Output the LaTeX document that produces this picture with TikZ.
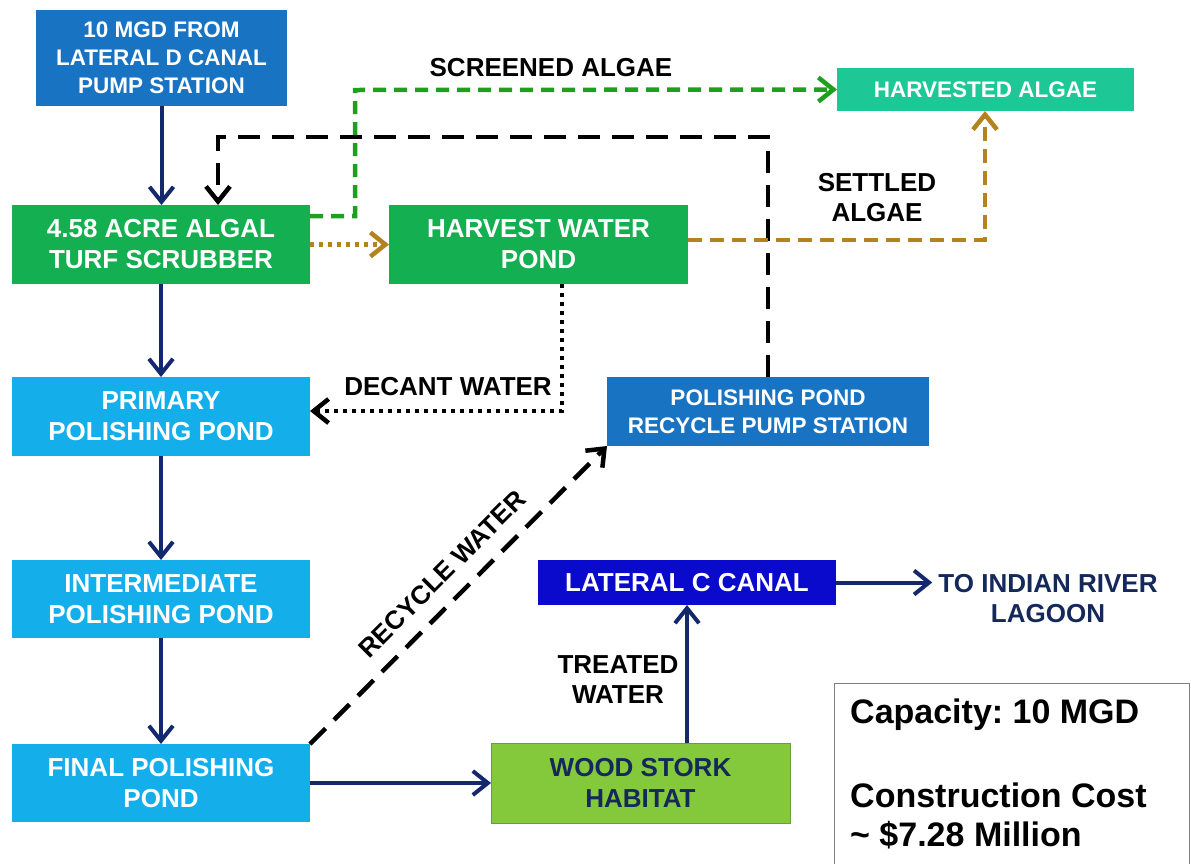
\documentclass[tikz,border=0pt]{standalone}
\usepackage{fontspec}
\setmainfont{Liberation Sans}
\usetikzlibrary{arrows.meta,calc}
\frenchspacing
\definecolor{bluebox}{RGB}{25,115,195}
\definecolor{greenbox}{RGB}{20,175,80}
\definecolor{tealbox}{RGB}{30,200,150}
\definecolor{lightblue}{RGB}{20,175,235}
\definecolor{darkblue}{RGB}{10,10,205}
\definecolor{woodgreen}{RGB}{132,200,60}
\definecolor{navy}{RGB}{20,40,110}
\definecolor{navytext}{RGB}{20,40,90}
\definecolor{dgreen}{RGB}{30,160,30}
\definecolor{brown}{RGB}{180,130,30}
\tikzset{
  box/.style={inner sep=0pt, outer sep=0pt, align=center, text=white,
    font=\fontsize{26}{31}\selectfont\bfseries},
  smallbox/.style={box, font=\fontsize{22.5}{28}\selectfont\bfseries},
  lbl/.style={inner sep=0pt, align=center, text=black,
    font=\fontsize{26}{30}\selectfont\bfseries},
  tip/.style={-{Straight Barb[length=15pt,width=24pt]}},
  flow/.style={draw=navy, line width=4pt, tip},
  blackdash/.style={draw=black, line width=4.5pt, dash pattern=on 22pt off 12pt, tip},
  blackdot/.style={draw=black, line width=4.5pt, dash pattern=on 4pt off 5pt, tip},
  greendash/.style={draw=dgreen, line width=4.5pt, dash pattern=on 13pt off 8pt, tip},
  browndash/.style={draw=brown, line width=4.5pt, dash pattern=on 14pt off 8pt, tip},
  browndot/.style={draw=brown, line width=4.5pt, dash pattern=on 4pt off 5pt, tip},
  captext/.style={inner sep=0pt, anchor=west, font=\fontsize{34}{40}\selectfont\bfseries},
}
\begin{document}
\begin{tikzpicture}[x=1pt,y=-1pt]
\useasboundingbox (0,0) rectangle (1191,863);
\fill[white] (0,0) rectangle (1191,863);

% boxes
\node[smallbox, fill=bluebox, minimum width=251pt, minimum height=96pt] (src) at (161.5,58) {10 MGD FROM\\LATERAL D CANAL\\PUMP STATION};
\node[box, fill=greenbox, minimum width=298pt, minimum height=79pt] (scrub) at (161,244.5) {4.58 ACRE ALGAL\\TURF SCRUBBER};
\node[box, fill=greenbox, minimum width=299pt, minimum height=79pt] (harvest) at (538.5,244.5) {HARVEST WATER\\POND};
\node[smallbox, fill=tealbox, minimum width=297pt, minimum height=43pt] (halgae) at (985.5,89.5) {HARVESTED ALGAE};
\node[box, fill=lightblue, minimum width=298pt, minimum height=79pt] (primary) at (161,416.5) {PRIMARY\\POLISHING POND};
\node[box, fill=lightblue, minimum width=298pt, minimum height=78pt] (inter) at (161,599) {INTERMEDIATE\\POLISHING POND};
\node[box, fill=lightblue, minimum width=298pt, minimum height=78pt] (final) at (161,783) {FINAL POLISHING\\POND};
\node[smallbox, fill=bluebox, minimum width=322pt, minimum height=69pt] (pump) at (768,411.5) {POLISHING POND\\RECYCLE PUMP STATION};
\node[box, fill=darkblue, minimum width=298pt, minimum height=45pt] (latc) at (687,582.5) {LATERAL C CANAL};
\node[box, fill=woodgreen, draw=woodgreen!80!black, line width=1pt, text=navytext, minimum width=299pt, minimum height=80pt] (wood) at (640.5,783) {WOOD STORK\\HABITAT};
\node[lbl, text=navytext] (irl) at (1048,599) {TO INDIAN RIVER\\LAGOON};

% helper coordinates
\coordinate (g1) at (355,90);
\coordinate (k1) at (218,137);
\coordinate (d1) at (562,411);
\coordinate (s1) at (985,240);

% main flow
\draw[flow] (src.south) -- (scrub.north -| src.south);
\draw[flow] (scrub.south) -- (primary.north);
\draw[flow] (primary.south) -- (inter.north);
\draw[flow] (inter.south) -- (final.north);
\draw[flow] (final.east) -- (wood.west);
\draw[flow] (wood.north -| latc.south) -- (latc.south);
\draw[flow] (latc.east) -- ([xshift=-6pt]latc.east -| irl.west);

% recycle loops
\draw[blackdash] (pump.north) |- (k1) -- (k1 |- scrub.north);
\draw[greendash] ([yshift=28.5pt]scrub.east) -| (g1) -- (halgae.west);
\draw[browndot] (scrub.east) -- (harvest.west);
\draw[browndash] (s1 -| harvest.east) -- (s1) -- (s1 |- halgae.south);
\draw[blackdot] (d1 |- harvest.south) -- (d1) -- (d1 -| primary.east);
\draw[blackdash] (final.north east) -- (pump.south west);

% labels
\node[lbl] (lscreen) at (551,68) {SCREENED ALGAE};
\node[lbl] (lsettle) at (877,198) {SETTLED\\ALGAE};
\node[lbl] (ldecant) at (448,387) {DECANT WATER};
\node[lbl] (ltreat) at (618,680) {TREATED\\WATER};
\node[lbl, rotate=45] (lrecycle) at (442,574) {RECYCLE WATER};

% capacity box
\draw[gray, line width=1pt] (834,870) -- (834,683) -- (1189,683) -- (1189,870);
\node[captext] (cap1) at (850,715) {Capacity: 10 MGD};
\node[captext] (cap2) at (850,795) {Construction Cost};
\node[captext] (cap3) at (850,835) {\textasciitilde\ \$7.28 Million};
\end{tikzpicture}
\end{document}
